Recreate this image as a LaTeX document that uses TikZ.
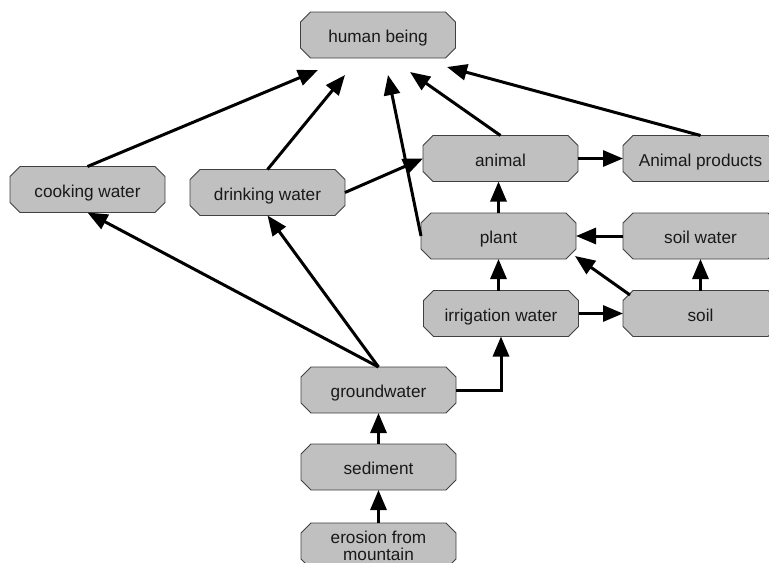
\documentclass[tikz,border=0pt]{standalone}
\usepackage{fontspec}
\setmainfont{Liberation Sans}
\usetikzlibrary{arrows.meta,calc,backgrounds}
\definecolor{boxgray}{HTML}{C0C0C0}
\definecolor{boxline}{HTML}{404040}
\newcommand\octbox[4][]{%
  \node[boxtext,#1] (#2) at #3 {#4};
  \begin{scope}[on background layer]
    \draw[boxshape] ($(#2.north west)+(10,0)$) -- ($(#2.north east)+(-10,0)$)
      -- ($(#2.north east)+(0,10)$) -- ($(#2.south east)+(0,-10)$)
      -- ($(#2.south east)+(-10,0)$) -- ($(#2.south west)+(10,0)$)
      -- ($(#2.south west)+(0,-10)$) -- ($(#2.north west)+(0,10)$) -- cycle;
  \end{scope}}
\begin{document}
\begin{tikzpicture}[x=0.75pt,y=-0.75pt,
  boxtext/.style={rectangle, minimum width=116.25pt, minimum height=34.5pt,
    inner sep=0pt, outer sep=0pt, font=\fontsize{12.9}{13}\selectfont, align=center,
    text=black!90, text height=11.6pt, text depth=0pt},
  twoline/.style={text height=, text depth=},
  boxshape/.style={draw=boxline, fill=boxgray, line width=0.6pt},
  arr/.style={-{Triangle[length=15pt,width=12pt]}, line width=2.25pt}]
\useasboundingbox (0,0) rectangle (769,562);
\octbox{human}{(378,35)}{human being}
\octbox{cook}{(87.5,189.5)}{cooking water}
\octbox{drink}{(267.5,192.5)}{drinking water}
\octbox{animal}{(500.5,158.5)}{animal}
\octbox{ap}{(700.5,158.5)}{Animal products}
\octbox{plant}{(498.5,236)}{plant}
\octbox{sw}{(700.5,236)}{soil water}
\octbox{irr}{(501,313.5)}{irrigation water}
\octbox{soil}{(700.5,313.5)}{soil}
\octbox{ground}{(378.5,390)}{groundwater}
\octbox{sed}{(378.5,467)}{sediment}
\octbox[twoline]{ero}{(378.5,546)}{erosion from\\mountain}

\draw[arr] (cook.north) -- ($(human)+(-60,35)$);
\draw[arr] (drink.north) -- ($(human)+(-33,40)$);
\draw[arr] (plant.west) -- ($(human)+(10,40)$);
\draw[arr] (animal.north) -- ($(human)+(32,37)$);
\draw[arr] (ap.north) -- ($(human)+(69,32)$);
\draw[arr] (drink.east) -- (animal.west);
\draw[arr] (animal.east) -- (ap.west);
\draw[arr] (sw.west) -- (plant.east);
\draw[arr] (soil.north) -- (sw.south);
\draw[arr] (irr.east) -- (soil.west);
\draw[arr] (plant.north) -- (plant.north |- animal.south);
\draw[arr] (plant.south |- irr.north) -- (plant.south);
\draw[arr] ($(soil)+(-70.5,-18.5)$) -- ($(plant)+(76.5,20)$);
\draw[arr] (ground.north) -- (cook.south);
\draw[arr] (ground.north) -- (drink.south);
\draw[arr] (ground.east) -| (irr.south);
\draw[arr] (sed.north) -- (ground.south);
\draw[arr] (ero.north) -- (sed.south);
\end{tikzpicture}
\end{document}
